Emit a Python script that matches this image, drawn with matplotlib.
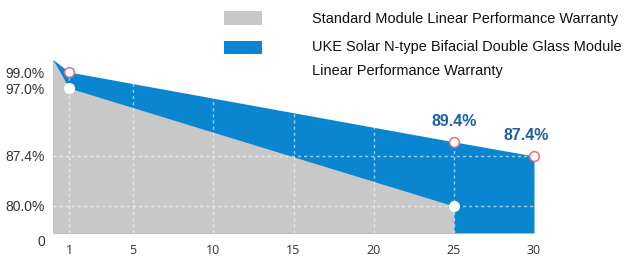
import numpy as np
import matplotlib
matplotlib.use("Agg")
import matplotlib.pyplot as plt
from matplotlib.patches import Rectangle

# ---- data ----
years_uke = [0, 1, 25, 30]
uke_values = [100.0, 99.0, 89.4, 87.4]
years_std = [0, 1, 25]
std_values = [100.0, 97.0, 80.0]
ytick_values = [80.0, 87.4, 97.0, 99.0]
ytick_labels = ["80.0%", "87.4%", "97.0%", "99.0%"]
xtick_values = [1, 5, 10, 15, 20, 25, 30]
grid_x = [1, 5, 10, 15, 20, 25]
grid_y = [80.0, 87.4]
legend_labels = ["Standard Module Linear Performance Warranty",
                 "UKE Solar N-type Bifacial Double Glass Module",
                 "Linear Performance Warranty"]
uke_marker_years = [1, 25, 30]
uke_marker_vals = [99.0, 89.4, 87.4]
std_marker_years = [1, 25]
std_marker_vals = [97.0, 80.0]
annot_years = [25, 30]
annot_vals = [89.4, 87.4]
annot_dx = [0, -8]

BLUE = "#0a86d1"
GREY = "#c8c8c8"
TXT_BLUE = "#1d5fa6"
RED = "#e2707c"

# non-uniform vertical scale as in the reference illustration
_sv = np.array([76.0, 80.0, 87.4, 97.0, 99.0, 100.0])
_sp = np.array([-233.0, -206.0, -156.0, -88.0, -72.0, -59.5])
def fwd(v):
    return np.interp(v, _sv, _sp)
def inv(p):
    return np.interp(p, _sp, _sv)

fig = plt.figure(figsize=(6.24, 2.56), dpi=100)
ax = fig.add_axes([53/624, 23/256, (534-53)/624, (233-59.5)/256])
ax.set_yscale("function", functions=(fwd, inv))
ax.set_xlim(0, 30)
ax.set_ylim(76, 100)

ax.fill_between(years_uke, uke_values, 76, color=BLUE, lw=0, zorder=1)
ax.fill_between(years_std, std_values, 76, color=GREY, lw=0, zorder=2)

for gx in grid_x:
    ax.axvline(gx, color="white", lw=1, ls=(0, (2.2, 2.2)), alpha=0.6, zorder=3)
for gy in grid_y:
    ax.axhline(gy, color="white", lw=1, ls=(0, (2.2, 2.2)), alpha=0.6, zorder=3)

ax.plot(uke_marker_years, uke_marker_vals, ls="none", marker="o", ms=7,
        mfc="white", mec=RED, mew=1.1, zorder=5, clip_on=False)
ax.plot(std_marker_years, std_marker_vals, ls="none", marker="o", ms=7,
        mfc="white", mec="white", mew=1.0, zorder=5, clip_on=False)

for yx, yv, dx in zip(annot_years, annot_vals, annot_dx):
    ax.annotate(f"{yv:.1f}%", xy=(yx, yv), xytext=(dx, 13), textcoords="offset pixels",
                ha="center", va="bottom", color=TXT_BLUE, fontsize=11.5,
                fontweight="bold", family="Liberation Sans")

for s in ax.spines.values():
    s.set_visible(False)
ax.set_yticks(ytick_values)
ax.set_yticklabels(ytick_labels, family="Liberation Sans", fontsize=10, color="#333333")
ax.set_xticks(xtick_values)
ax.set_xticklabels([str(v) for v in xtick_values], family="Open Sans", fontsize=9, color="#333333")
ax.tick_params(axis="both", length=0)
ax.tick_params(axis="y", pad=6)
ax.tick_params(axis="x", pad=8)
ax.yaxis.set_minor_locator(matplotlib.ticker.NullLocator())
ax.annotate("0", xy=(0, 0), xycoords="axes fraction", xytext=(-8, -9),
            textcoords="offset pixels", ha="right", va="center",
            family="Liberation Sans", fontsize=10, color="#333333")

# legend (manual layout as in the reference)
fig.patches.append(Rectangle((224/624, 1 - 25/256), 38/624, 14/256,
                             transform=fig.transFigure, color=GREY, lw=0))
fig.patches.append(Rectangle((224/624, 1 - 54/256), 38/624, 13/256,
                             transform=fig.transFigure, color=BLUE, lw=0))
for ty, lab in zip([19, 47.5, 71], legend_labels):
    fig.text(312/624, 1 - ty/256, lab, ha="left", va="center",
             family="Liberation Sans", fontsize=10.45, color="#111111")

fig.savefig("out.png", dpi=100)
